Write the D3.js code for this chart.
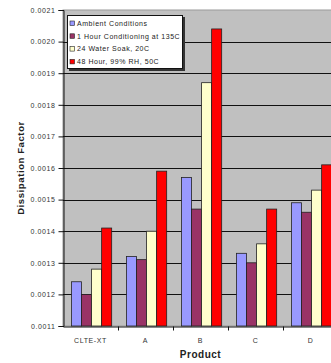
<!DOCTYPE html>
<html>
<head>
<meta charset="utf-8">
<script src="https://cdn.jsdelivr.net/npm/d3@7"></script>
<style>
  html, body { margin: 0; padding: 0; background: #fff; }
  svg { display: block; font-family: "Liberation Sans", Arial, sans-serif; }
</style>
</head>
<body>
<svg id="chart" width="331" height="363"></svg>
<script>
// Products along the x axis
const products = ["CLTE-XT", "A", "B", "C", "D"];

// Test conditions (legend entries)
const conditions = [
  "Ambient Conditions",
  "1 Hour Conditioning at 135C",
  "24 Water Soak, 20C",
  "48 Hour, 99% RH, 50C"
];

// Dissipation factor per product, one array per condition
const ambient      = [0.00124, 0.00132, 0.00157, 0.00133, 0.00149];
const conditioning = [0.00120, 0.00131, 0.00147, 0.00130, 0.00146];
const waterSoak    = [0.00128, 0.00140, 0.00187, 0.00136, 0.00153];
const humidity     = [0.00141, 0.00159, 0.00204, 0.00147, 0.00161];

const seriesValues = [ambient, conditioning, waterSoak, humidity];
const seriesColors = ["#9999ff", "#993366", "#ffffcc", "#ff0000"];

// Y axis ticks
const yTicks = [0.0011, 0.0012, 0.0013, 0.0014, 0.0015, 0.0016, 0.0017, 0.0018, 0.0019, 0.0020, 0.0021];

const svg = d3.select("#chart");
const plot = { left: 63, right: 338, top: 10, bottom: 326 };

const y = d3.scaleLinear().domain([0.0011, 0.0021]).range([plot.bottom, plot.top]);
const x0 = d3.scaleBand().domain(products).range([plot.left, plot.right]).padding(0);
const bw = x0.bandwidth();
const x1 = d3.scaleBand().domain(d3.range(conditions.length))
  .range([bw * 0.155, bw * 0.885]).padding(0);

// Plot background
svg.append("rect")
  .attr("x", plot.left).attr("y", plot.top)
  .attr("width", plot.right - plot.left).attr("height", plot.bottom - plot.top)
  .attr("fill", "#c0c0c0").attr("stroke", "#9a9a9a").attr("stroke-width", 1);

// Gridlines
svg.append("g").selectAll("line")
  .data(yTicks.filter(t => t > 0.00111 && t < 0.00209))
  .join("line")
  .attr("x1", plot.left).attr("x2", plot.right)
  .attr("y1", d => Math.round(y(d)) + 0.5).attr("y2", d => Math.round(y(d)) + 0.5)
  .attr("stroke", "#111").attr("stroke-width", 1);

// Bars
const groups = svg.append("g").selectAll("g")
  .data(products)
  .join("g")
  .attr("transform", d => `translate(${x0(d)},0)`);

groups.selectAll("rect")
  .data((p, i) => seriesValues.map((vals, s) => ({ s, v: vals[i] })))
  .join("rect")
  .attr("x", d => x1(d.s))
  .attr("y", d => y(d.v))
  .attr("width", x1.bandwidth())
  .attr("height", d => y(0.0011) - y(d.v))
  .attr("fill", d => seriesColors[d.s])
  .attr("stroke", "#222").attr("stroke-width", 0.8);

// Y axis
const yAxis = d3.axisLeft(y).tickValues(yTicks).tickSize(5).tickPadding(3)
  .tickFormat(d3.format(".4f"));
const gy = svg.append("g").attr("transform", `translate(${plot.left + 0.5},0)`).call(yAxis);
gy.select(".domain").attr("stroke", "#111");
gy.selectAll(".tick line").attr("stroke", "#111");
gy.selectAll(".tick text")
  .attr("font-size", 7).attr("letter-spacing", 0.6).attr("fill", "#333")
  .attr("font-family", "Liberation Sans, Arial, sans-serif");

// X axis
const xAxis = d3.axisBottom(x0).tickSize(0).tickPadding(12);
const gx = svg.append("g").attr("transform", `translate(0,${plot.bottom + 0.5})`).call(xAxis);
gx.select(".domain").attr("stroke", "#111");
gx.selectAll(".tick text")
  .attr("font-size", 7).attr("letter-spacing", 0.6).attr("fill", "#333")
  .attr("font-family", "Liberation Sans, Arial, sans-serif");
// Category separators below the axis
gx.append("g").selectAll("line")
  .data(products.slice(1))
  .join("line")
  .attr("x1", d => Math.round(x0(d)) + 0.5).attr("x2", d => Math.round(x0(d)) + 0.5)
  .attr("y1", 0).attr("y2", 4)
  .attr("stroke", "#111");

// Axis titles
svg.append("text")
  .attr("transform", `translate(24,${(plot.top + plot.bottom) / 2}) rotate(-90)`)
  .attr("text-anchor", "middle")
  .attr("font-size", 9.5).attr("font-weight", "bold").attr("letter-spacing", 0.6)
  .attr("fill", "#222")
  .text("Dissipation Factor");

svg.append("text")
  .attr("x", (plot.left + plot.right) / 2).attr("y", 358)
  .attr("text-anchor", "middle")
  .attr("font-size", 10).attr("font-weight", "bold").attr("letter-spacing", 0.5)
  .attr("fill", "#222")
  .text("Product");

// Legend
const lg = svg.append("g").attr("transform", "translate(67,15)");
lg.append("rect").attr("x", 2).attr("y", 2).attr("width", 116).attr("height", 54).attr("fill", "#333");
lg.append("rect").attr("x", 0.5).attr("y", 0.5).attr("width", 115).attr("height", 53)
  .attr("fill", "#fff").attr("stroke", "#111");
const items = lg.selectAll("g.item")
  .data(conditions)
  .join("g").attr("class", "item")
  .attr("transform", (d, i) => `translate(3,${6 + i * 12.8})`);
items.append("rect")
  .attr("width", 4.5).attr("height", 4.5)
  .attr("fill", (d, i) => seriesColors[i]).attr("stroke", "#222").attr("stroke-width", 0.6);
items.append("text")
  .attr("x", 7).attr("y", 4.8)
  .attr("font-size", 7).attr("letter-spacing", 0.55).attr("fill", "#222")
  .text(d => d);
</script>
</body>
</html>
